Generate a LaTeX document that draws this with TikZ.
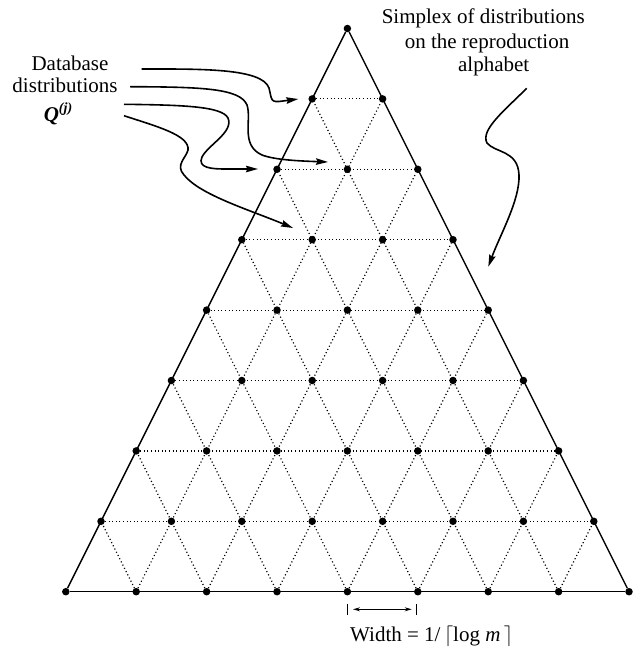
\documentclass[tikz,border=0pt]{standalone}
\usepackage{fontspec}
\setmainfont{Liberation Serif}
\usetikzlibrary{arrows.meta}
\begin{document}
\begin{tikzpicture}[x=1pt,y=-1pt,
  gdot/.style={circle,fill=black,inner sep=0pt,minimum size=7.5pt},
  side/.style={line width=1.4pt,black},
  grid/.style={line width=1.2pt,dash pattern=on 1.1pt off 2.5pt},
  curvy/.style={line width=1.6pt,-{Stealth[length=12pt,width=6.5pt,inset=1.5pt]}},
  lbl/.style={font=\fontsize{21}{23}\selectfont,inner sep=0pt,anchor=base}]
\useasboundingbox (0,0) rectangle (633,652);
% grid points
\foreach \k in {0,...,8}{
  \pgfmathtruncatemacro\n{8-\k}
  \foreach \i in {0,...,\n}{
    \node[gdot] (p-\k-\i) at ({65.8+35.2*\k+70.4*\i},{591.7-70.4*\k}) {};
  }
}
% dotted grid lines
\foreach \k in {1,...,7}{
  \pgfmathtruncatemacro\n{8-\k}
  \draw[grid] (p-\k-0) -- (p-\k-\n);
}
\foreach \i in {1,...,7}{
  \pgfmathtruncatemacro\n{8-\i}
  \draw[grid] (p-0-\i) -- (p-\n-\i);
  \draw[grid] (p-0-\i) -- (p-\i-0);
}
% sides
\draw[side] (p-0-0) -- (p-8-0);
\draw[side] (p-8-0) -- (p-0-8);
\draw[side] (p-0-0) -- (p-0-8);
% labels
\node[lbl] (db1) at (70,70.7) {Database};
\node[lbl] (db2) at (65,93) {distributions};
\node[lbl] (db3) at (58,121.7) {\textbf{\textit{Q}}\raisebox{0.45em}{\fontsize{14}{14}\selectfont\textbf{\textit{(j)}}}};
\node[lbl] (sx1) at (483.3,24) {Simplex of distributions};
\node[lbl] (sx2) at (487,48.3) {on the reproduction};
\node[lbl] (sx3) at (493.7,71.7) {alphabet};
\node[lbl] (wd) at (431.7,641.7) {Width = 1/\,$\big\lceil$log \textit{m}\,$\big\rceil$};
% arrow end points
\coordinate (a1s) at (141.7,69);   \coordinate (a1e) at (298.3,99);
\coordinate (a2s) at (130,86.7);   \coordinate (a2e) at (328,162);
\coordinate (a3s) at (124,104.3);  \coordinate (a3e) at (258,169);
\coordinate (a4s) at (124,115.7);  \coordinate (a4e) at (293,228);
\coordinate (a5s) at (526.7,88.3); \coordinate (a5e) at (488.3,266.7);
\draw[curvy] (a1s) .. controls (200,69) and (262,68) .. (269,88)
   .. controls (272,100) and (270,103) .. (283,101) -- (a1e);
\draw[curvy] (a2s) .. controls (200,87) and (240,88) .. (247,105)
   .. controls (252,120) and (240,145) .. (262,155)
   .. controls (275,160) and (300,161) .. (a2e);
\draw[curvy] (a3s) .. controls (180,105) and (222,106) .. (228,118)
   .. controls (234,132) and (208,145) .. (202,157)
   .. controls (197,168) and (212,169) .. (225,169) -- (a3e);
\draw[curvy] (a4s) .. controls (155,126) and (190,135) .. (188,150)
   .. controls (186,158) and (175,165) .. (184,175)
   .. controls (200,195) and (250,210) .. (a4e);
\draw[curvy] (a5s) .. controls (505,110) and (480,130) .. (487,143)
   .. controls (495,153) and (518,150) .. (519,175)
   .. controls (520,200) and (500,235) .. (a5e);
% width marker
\coordinate (t1a) at (347,604); \coordinate (t1b) at (347,615);
\coordinate (t2a) at (416.7,604); \coordinate (t2b) at (416.7,615);
\coordinate (w1) at (353,609.3); \coordinate (w2) at (411.7,609.3);
\draw[line width=1pt] (t1a) -- (t1b);
\draw[line width=1pt] (t2a) -- (t2b);
\draw[line width=1pt,{Stealth[length=7pt,width=4pt]}-{Stealth[length=7pt,width=4pt]}] (w1) -- (w2);
\end{tikzpicture}
\end{document}
